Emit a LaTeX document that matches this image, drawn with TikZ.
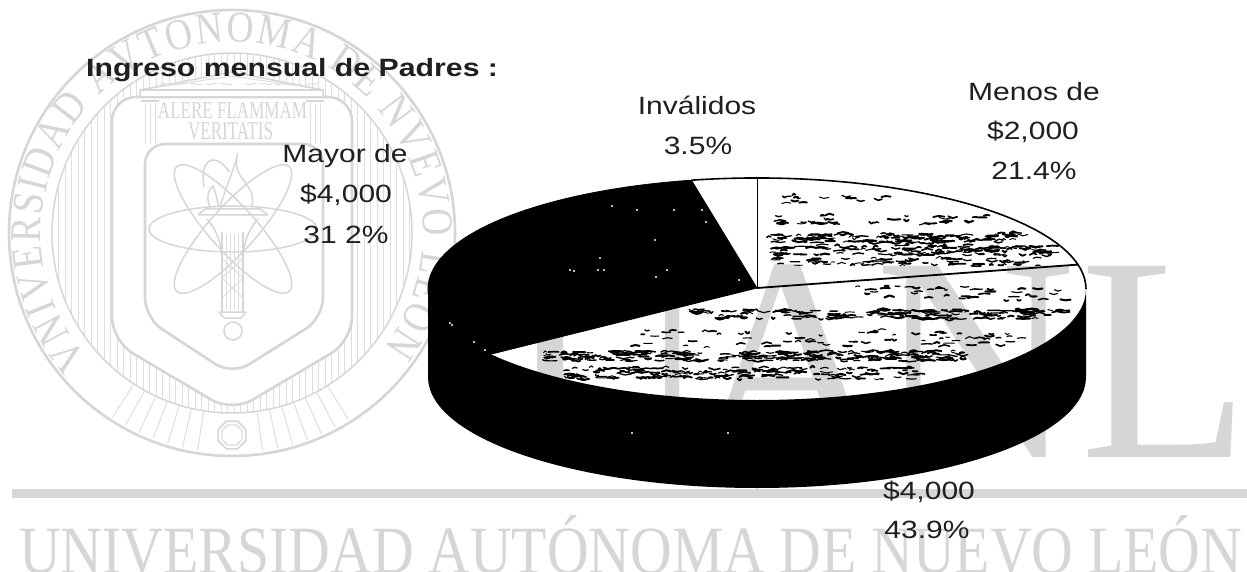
\documentclass[tikz,border=0pt]{standalone}
\usepackage{fontspec}
\usepackage{graphicx}
\usetikzlibrary{decorations.text,calc}
\setmainfont{Liberation Sans}
\newfontfamily\lblfont[FakeStretch=1.2]{Liberation Sans}
\newfontfamily\titlefont[FakeStretch=1.21]{Liberation Sans}
\newfontfamily\sealfont[FakeStretch=0.85]{Liberation Serif}
\newfontfamily\wmfont{Liberation Serif}
\newfontfamily\bigfont[FakeStretch=0.95]{Liberation Serif}
\definecolor{wm}{HTML}{D6D6D6}
\definecolor{wmthin}{HTML}{DEDEDE}
\tikzset{
  wmthick/.style={draw=wm,line width=2.6pt},
  wmline/.style={draw=wm,line width=1.5pt},
  wmhatch/.style={draw=wmthin,line width=1pt},
  lbl/.style={anchor=base,inner sep=0pt,font=\lblfont\fontsize{25}{25}\selectfont,text=black!88},
  bigletter/.style={anchor=base,inner sep=0pt,text=wm,font=\bigfont\fontsize{292}{292}\selectfont},
  wmtext/.style={inner sep=0pt,text=wm,font=\wmfont},
  pieface/.style={fill=black,draw=black,line width=.8pt},
  spk/.style={draw=black,line cap=round,line join=round},
  wspk/.style={fill=white}
}
\begin{document}
\begin{tikzpicture}[x=1pt,y=-1pt]
\useasboundingbox (0,0) rectangle (1247,572);
\fill[white] (0,0) rectangle (1247,572);
% ---------- watermark: seal
\coordinate (sc) at (232,233);
\begin{scope}
  \clip (sc) circle[radius=180pt];
  \foreach \x in {52,58.5,...,420} \draw[wmhatch] (\x,40)--(\x,420);
\end{scope}
\path[fill=white,wmthick,rounded corners=24pt] (112,97)--(112,341)--(232,412)--(352,341)--(352,97)--cycle;
\path[fill=white,wmthick,rounded corners=20pt] (145,144)--(145,318)--(232,375)--(323,318)--(323,144)--cycle;
\draw[wm,line width=2.6pt] (sc) circle[radius=223pt];
\draw[wmline] (sc) circle[radius=180pt];
\foreach \a in {237,241,...,262,278,282,...,303}
  \draw[wmhatch] ($(sc)+(\a:180pt)$) -- ($(sc)+(\a:220pt)$);
\path[decorate,decoration={text along path,text align=fit to path,
   text={|\sealfont\fontsize{44}{44}\selectfont\color{wm}|VNIVERSIDAD AVTONOMA DE NVEVO LEON}}]
   (87.9,358.3) arc[start angle=221,end angle=-37,radius=191pt];
% octagon
\foreach \r/\w in {15/1.6,11/1} {
  \draw[wm,line width=\w pt] ($(232,435)+(22.5:\r pt)$)
   \foreach \q in {67.5,112.5,...,337.5} {-- ($(232,435)+(\q:\r pt)$)} -- cycle;
}
% pediment and columns
\path[fill=white,wmline] (140,97)--(140,90)--(232,72)--(323,90)--(323,97)--cycle;
\draw[wmline] (140,90)--(323,90);
\draw[wmhatch] (152,88)--(232,76)--(312,88);
\foreach \x/\d in {160/2,175/-2,190/3,205/-2,220/2,245/-2,260/3,275/-2,290/2,305/-1}
  \draw[wmhatch] (\x,84) .. controls (\x+4,84-\d) and (\x+8,84+\d) .. (\x+12,84);
\foreach \xa/\xb in {145/155,310/320} {
  \draw[wmline] (\xa-4,101)--(\xb+4,101);
  \draw[wmhatch] (\xa,103)--(\xa,144) (\xb,103)--(\xb,144) (\xa+5,103)--(\xa+5,144);
}
\node[wmtext,anchor=south] (motto1) at (232.5,118.5) {\resizebox{149pt}{16pt}{ALERE FLAMMAM}};
\node[wmtext,anchor=south] (motto2) at (230.5,140) {\resizebox{85pt}{17pt}{VERITATIS}};
% atom
\foreach \ang in {0,48,-48}
  \draw[wmline,rotate around={\ang:(233,229)}] (233,229) ellipse[x radius=84pt,y radius=23pt];
% torch
\begin{scope}[wmline,fill=white]
  \draw (204,187) .. controls (201,170) and (206,160) .. (213,160) .. controls (220,160) and (226,166) .. (229,172);
  \draw (220,207) .. controls (225,190) and (232,175) .. (238,153) .. controls (232,172) and (244,178) .. (250,190) .. controls (254,197) and (252,203) .. (252,207);
  \draw (210,207) .. controls (206,198) and (208,190) .. (213,186) .. controls (216,193) and (217,200) .. (219,207);
  \draw (198,215)--(268,215) (205,209)--(260,209) (205,209)--(198,215) (260,209)--(268,215);
  \draw (207,219) .. controls (215,228) and (220,238) .. (222,255);
  \draw (258,219) .. controls (250,228) and (245,238) .. (243,255);
  \draw (222,232)--(222,312) (243,232)--(243,312);
  \draw (219,312)--(246,312) (224,318)--(241,318) (219,312)--(224,318) (246,312)--(241,318);
  \draw (233,331) circle[radius=9pt];
\end{scope}
\foreach \x in {226,230,234,238} \draw[wmhatch] (\x,234)--(\x,310);
\foreach \y in {258,278} \draw[wmhatch] (222,\y)--(243,\y+20) (243,\y)--(222,\y+20);
% ---------- watermark: big letters, bar, banner
\node[bigletter] (wmU) at (609,457) {U};
\node[bigletter] (wmA) at (790,457) {A};
\node[bigletter] (wmN) at (976,457) {N};
\node[bigletter] (wmL) at (1165,457) {L};
\fill[wm] (12,489) rectangle (1247,498);
\node[wmtext,anchor=south west] (banner) at (19,575) {\resizebox{1223pt}{58pt}{UNIVERSIDAD AUTÓNOMA DE NUEVO LEÓN}};
% ---------- labels
\node[lbl,anchor=base west,font=\titlefont\bfseries\fontsize{25}{25}\selectfont] (title) at (86,77) {Ingreso mensual de Padres :};
\node[lbl] (may1) at (345,163) {Mayor de};
\node[lbl] (may2) at (346,203) {\$4,000};
\node[lbl] (may3) at (346,243) {31 2\%};
\node[lbl] (inv1) at (697,115) {Inválidos};
\node[lbl] (inv2) at (698,155) {3.5\%};
\node[lbl] (men1) at (1034,101) {Menos de};
\node[lbl] (men2) at (1033,140) {\$2,000};
\node[lbl] (men3) at (1034,180) {21.4\%};
\node[lbl] (bot1) at (929,499) {\$4,000};
\node[lbl] (bot2) at (927,538) {43.9\%};
% ---------- pie
\coordinate (c) at (757,288);
\coordinate (left) at (428,289);
\coordinate (right) at (1086,289);
\coordinate (tTop) at (757,178);
\coordinate (tInv) at (691.4,180.2);
\coordinate (tLow) at (490.8,354.2);
\coordinate (tRight) at (1078,264.6);
\fill[black] (left) -- (428,377) arc[start angle=180,end angle=360,x radius=329pt,y radius=111pt]
  -- (right) arc[start angle=0,end angle=-180,x radius=329pt,y radius=111pt] -- cycle;
\path[pieface] (c) -- (tLow) arc[start angle=216,end angle=101.5,x radius=329pt,y radius=111pt] -- cycle;
\draw[black,line width=1.6pt] (tInv) arc[start angle=101.5,end angle=0,x radius=329pt,y radius=111pt];
\draw[black,line width=1pt] (c) -- (tTop);
\draw[black,line width=1.8pt] (c) -- (tRight);
% speckle bands: x0/x1/y/count/maxlen/jitter
\pgfmathsetseed{17}
\foreach \xa/\xb/\yy/\n/\len/\jit in {
  780/893/200/14/6/5,
  763/984/220/34/8/5,
  758/1018/238/130/9/5,
  767/1049/250/120/9/5,
  771/1036/262/70/7/4,
  853/1062/293/40/7/7,
  689/1062/314/170/9/5,
  637/1027/336/40/5/6,
  606/1018/343/30/7/5,
  528/962/356/230/9/5,
  563/919/373/170/8/6} {
  \foreach \k in {1,...,\n} {
    \pgfmathsetmacro{\sx}{\xa+rnd*(\xb-\xa)}
    \pgfmathsetmacro{\sy}{\yy+(rnd-.5)*2*\jit}
    \pgfmathsetmacro{\sl}{1.5+rnd*\len*.6}
    \pgfmathsetmacro{\sd}{(rnd-.5)*4}
    \pgfmathsetmacro{\sw}{.9+rnd*1.2}
    \draw[spk,line width=\sw pt] (\sx,\sy) -- ++(\sl,\sd) -- ++(\sl,-\sd*.7);
  }
}
% white specks on the black areas
\foreach \x/\y in {637/210,674/210,702/210,706/222,570/270,574/271,598/270,604/270,667/270,656/277,739/280,632/433,728/433,474/342,485/350,450/323,452/325,612/206,655/240,600/258}
  \fill[wspk] (\x,\y) circle[radius=1.1pt];
\end{tikzpicture}
\end{document}
